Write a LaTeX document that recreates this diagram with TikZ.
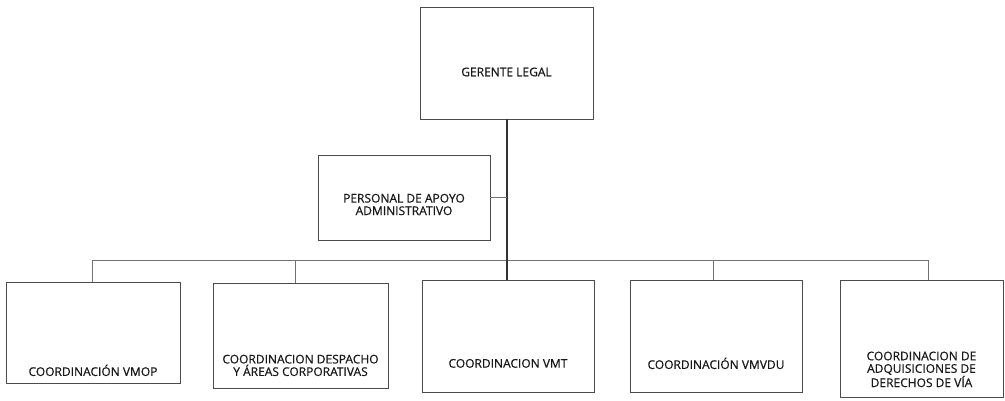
\documentclass[tikz,border=0pt]{standalone}
\usepackage{fontspec}
\setmainfont{Open Sans}
\newfontfamily\lblfont[FakeBold=0.6]{Open Sans}
\begin{document}
\begin{tikzpicture}[x=1pt,y=-1pt,
  box/.style={draw=black!70, line width=0.8pt, rectangle, inner sep=0pt},
  lbl/.style={font=\lblfont\fontsize{12}{12.5}\selectfont, align=center, text=black!90, anchor=center},
  conn/.style={draw=black!55, line width=1pt},
  trunk/.style={draw=black!80, line width=2pt}]
\useasboundingbox[fill=white] (0,0) rectangle (1005,401);
% boxes
\node[box, minimum width=173pt, minimum height=112pt,
  label={[lbl, yshift=-9pt]center:GERENTE LEGAL}] (gl) at (506.5,63) {};
\node[box, minimum width=172pt, minimum height=85pt,
  label={[lbl, yshift=-7pt]center:PERSONAL DE APOYO\\ADMINISTRATIVO}] (pa) at (404,197.5) {};
\node[box, minimum width=174pt, minimum height=101pt,
  label={[lbl, yshift=13pt]south:COORDINACIÓN VMOP}] (b1) at (93,332.5) {};
\node[box, minimum width=175pt, minimum height=105pt,
  label={[lbl, yshift=23pt]south:COORDINACION DESPACHO\\Y ÁREAS CORPORATIVAS}] (b2) at (300.5,335.5) {};
\node[box, minimum width=172pt, minimum height=112pt,
  label={[lbl, yshift=29pt]south:COORDINACION VMT}] (b3) at (508,336) {};
\node[box, minimum width=172pt, minimum height=112pt,
  label={[lbl, yshift=29pt]south:COORDINACIÓN VMVDU}] (b4) at (716,336) {};
\node[box, minimum width=163pt, minimum height=117pt,
  label={[lbl, yshift=28pt]south:COORDINACION DE\\ADQUISICIONES DE\\DERECHOS DE VÍA}] (b5) at (921.5,338.5) {};
% bus coordinates
\coordinate (d1) at (92,260);
\coordinate (d2) at (295,260);
\coordinate (d3) at (507,260);
\coordinate (d4) at (713,260);
\coordinate (d5) at (928,260);
% connectors
\draw[conn] (d1) -- (d5);
\draw[trunk] (gl.south -| d3) -- (d3 |- b3.north);
\draw[conn] (pa.east) -- (pa.east -| d3);
\draw[conn] (d1) -- (d1 |- b1.north);
\draw[conn] (d2) -- (d2 |- b2.north);
\draw[conn] (d4) -- (d4 |- b4.north);
\draw[conn] (d5) -- (d5 |- b5.north);
\end{tikzpicture}
\end{document}
